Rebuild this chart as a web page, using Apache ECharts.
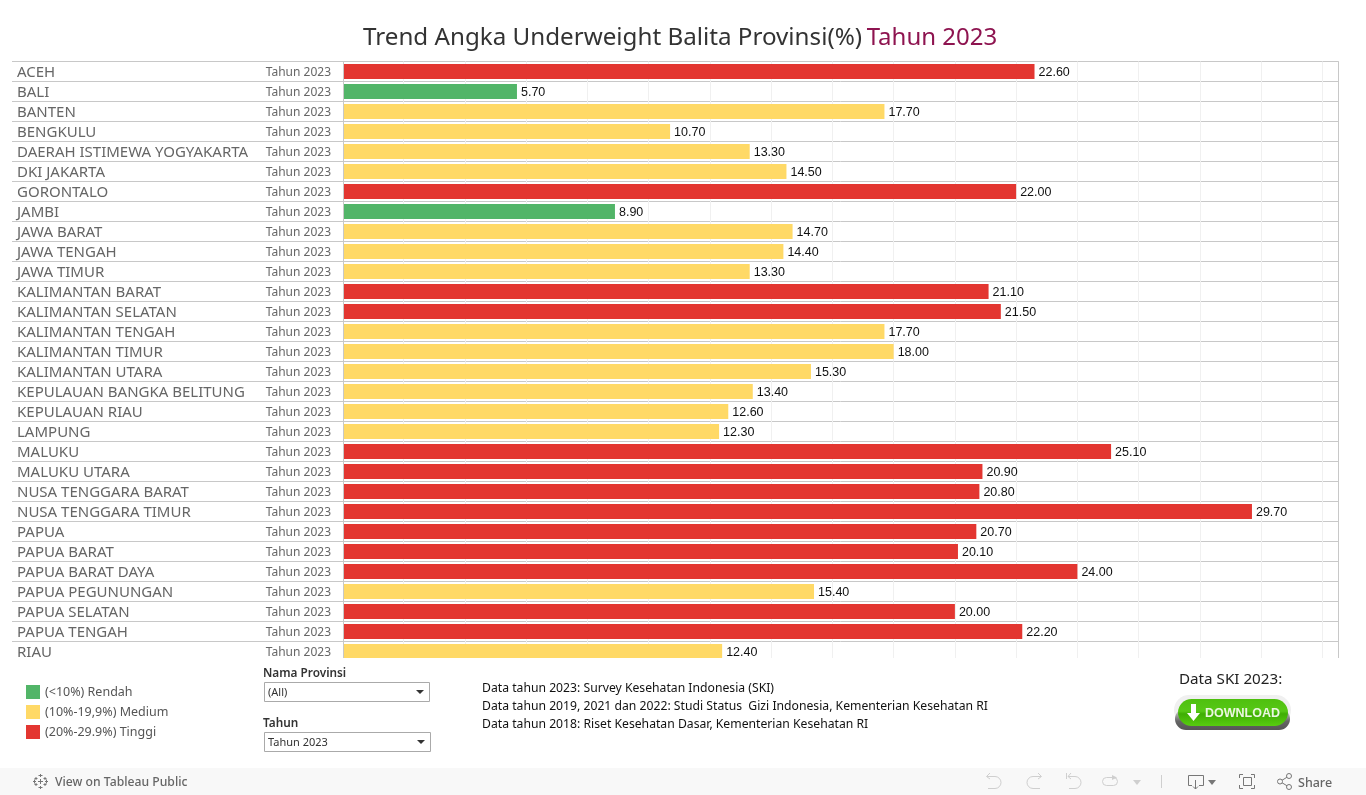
<!DOCTYPE html>
<html><head><meta charset="utf-8">
<style>html,body{margin:0;padding:0;background:#fff}#c{width:1366px;height:795px}</style>
<script src="https://cdn.jsdelivr.net/npm/echarts@6/dist/echarts.min.js"></script>
</head><body><div id="c"></div>
<script>
const provinces = ['ACEH','BALI','BANTEN','BENGKULU','DAERAH ISTIMEWA YOGYAKARTA','DKI JAKARTA','GORONTALO','JAMBI','JAWA BARAT','JAWA TENGAH','JAWA TIMUR','KALIMANTAN BARAT','KALIMANTAN SELATAN','KALIMANTAN TENGAH','KALIMANTAN TIMUR','KALIMANTAN UTARA','KEPULAUAN BANGKA BELITUNG','KEPULAUAN RIAU','LAMPUNG','MALUKU','MALUKU UTARA','NUSA TENGGARA BARAT','NUSA TENGGARA TIMUR','PAPUA','PAPUA BARAT','PAPUA BARAT DAYA','PAPUA PEGUNUNGAN','PAPUA SELATAN','PAPUA TENGAH','RIAU'];
const values = [22.6,5.7,17.7,10.7,13.3,14.5,22.0,8.9,14.7,14.4,13.3,21.1,21.5,17.7,18.0,15.3,13.4,12.6,12.3,25.1,20.9,20.8,29.7,20.7,20.1,24.0,15.4,20.0,22.2,12.4];
const yearLabel = 'Tahun 2023';
const levels = [
  {name:'(<10%) Rendah', color:'#52b568', lo:0, hi:10},
  {name:'(10%-19,9%) Medium', color:'#ffd966', lo:10, hi:20},
  {name:'(20%-29.9%) Tinggi', color:'#e33631', lo:20, hi:30}
];
const GRID='#c8c8c8', SANS='"Noto Sans"';
const txt=(text,x,y,font,fill,align)=>({type:'text',z:20,silent:true,style:{text,x,y,font,fill,align:align||'left',verticalAlign:'middle'}});
const rect=(x,y,w,h,fill,stroke,r)=>({type:'rect',z:19,silent:true,shape:{x,y,width:w,height:h,r:r||0},style:{fill:fill||'transparent',stroke:stroke||null,lineWidth:1}});
const pl=(pts,stroke,lw)=>({type:'polyline',z:20,silent:true,shape:{points:pts},style:{stroke,fill:null,lineWidth:lw||1}});
const tri=(pts,fill)=>({type:'polygon',z:20,silent:true,shape:{points:pts},style:{fill}});
const arc=(cx,cy,r,a,b,stroke,cw)=>({type:'arc',z:20,silent:true,shape:{cx,cy,r,startAngle:a,endAngle:b,clockwise:cw!==false},style:{stroke,fill:null,lineWidth:1}});
const circ=(cx,cy,r,fill,stroke)=>({type:'circle',z:20,silent:true,shape:{cx,cy,r},style:{fill,stroke,lineWidth:1}});
const P=Math.PI, MUTED='#cfcfcf', ICON='#777', FOOT='#f8f8f8';
const grad=(stops)=>new echarts.graphic.LinearGradient(0,0,0,1,stops);
const chrome=[
  rect(0,658,1366,6,'#fff'),
  // divider between the label pane and the bar pane
  rect(341,61,3,597,'#fff'),
  pl([[343.5,61.5],[343.5,658]],GRID),
  // footer
  rect(0,768,1366,27,FOOT),
  pl([[40.5,774],[40.5,777]],ICON),pl([[40.5,786],[40.5,789]],ICON),pl([[38.5,775.5],[42.5,775.5]],ICON),pl([[38.5,787.5],[42.5,787.5]],ICON),
  pl([[33,781.5],[36,781.5]],ICON),pl([[45,781.5],[48,781.5]],ICON),pl([[34.5,779.5],[34.5,783.5]],ICON),pl([[46.5,779.5],[46.5,783.5]],ICON),
  pl([[40.5,779],[40.5,784]],ICON),pl([[38,781.5],[43,781.5]],ICON),
  pl([[36,777],[36,780]],ICON),pl([[34.5,778.5],[37.5,778.5]],ICON),pl([[45,777],[45,780]],ICON),pl([[43.5,778.5],[46.5,778.5]],ICON),
  pl([[36,783],[36,786]],ICON),pl([[34.5,784.5],[37.5,784.5]],ICON),pl([[45,783],[45,786]],ICON),pl([[43.5,784.5],[46.5,784.5]],ICON),
  txt('View on Tableau Public',55,783,'500 12.2px '+SANS,'#666'),
  pl([[990,773],[986.5,776.5],[990,779]],MUTED),pl([[987,776.5],[995,776.5]],MUTED),arc(995,782.5,6,-P/2,P/2,MUTED),pl([[995,788.5],[988,788.5]],MUTED),
  pl([[1038,773],[1041.5,776.5],[1038,779]],MUTED),pl([[1041,776.5],[1033,776.5]],MUTED),arc(1033,782.5,6,-P/2,P/2,MUTED,false),pl([[1033,788.5],[1040,788.5]],MUTED),
  pl([[1066.5,773],[1066.5,779]],MUTED),pl([[1071,773],[1068,776.5],[1071,779]],MUTED),pl([[1068,776.5],[1075,776.5]],MUTED),arc(1075,782.5,6,-P/2,P/2,MUTED),pl([[1075,788.5],[1069,788.5]],MUTED),
  rect(1102.5,777.5,15,8,null,MUTED,4),tri([[1112,775],[1117,777.5],[1112,780]],MUTED),
  tri([[1133,780],[1141,780],[1137,785]],MUTED),
  pl([[1161.5,775],[1161.5,788]],MUTED),
  pl([[1192,785.5],[1188.5,785.5],[1188.5,775.5],[1203.5,775.5],[1203.5,785.5],[1199,785.5]],ICON),
  pl([[1195.5,780],[1195.5,789]],ICON),pl([[1193,786.5],[1195.5,789],[1198,786.5]],ICON),
  tri([[1208,780],[1216,780],[1212,785]],ICON),
  pl([[1239.5,778],[1239.5,774.5],[1243,774.5]],ICON),pl([[1251,774.5],[1254.5,774.5],[1254.5,778]],ICON),
  pl([[1254.5,785],[1254.5,788.5],[1251,788.5]],ICON),pl([[1243,788.5],[1239.5,788.5],[1239.5,785]],ICON),
  rect(1243.5,777.5,8,8,null,ICON),
  pl([[1289,776],[1280,781.5],[1289,787]],ICON),
  circ(1280,781.5,2.5,FOOT,ICON),circ(1289,776,2.5,FOOT,ICON),circ(1289,787,2.5,FOOT,ICON),
  txt('Share',1298,783,'500 12.5px '+SANS,'#666'),
  // filters
  txt('Nama Provinsi',263,674,'600 11.8px '+SANS,'#333'),
  rect(264.5,682.5,165,19,'#fff','#aaa'),
  txt('(All)',268,693,'11px '+SANS,'#333'),
  tri([[416,690],[424,690],[420,694]],'#333'),
  txt('Tahun',263,724,'600 11.8px '+SANS,'#333'),
  rect(264.5,732.5,166,19,'#fff','#aaa'),
  txt('Tahun 2023',268,743,'11px '+SANS,'#333'),
  tri([[417,740],[425,740],[421,744]],'#333'),
  // notes
  txt('Data tahun 2023: Survey Kesehatan Indonesia (SKI)',482,689,'12.2px '+SANS,'#111'),
  txt('Data tahun 2019, 2021 dan 2022: Studi Status  Gizi Indonesia, Kementerian Kesehatan RI',482,707,'12.2px '+SANS,'#111'),
  txt('Data tahun 2018: Riset Kesehatan Dasar, Kementerian Kesehatan RI',482,725,'12.2px '+SANS,'#111'),
  txt('Data SKI 2023:',1179,680,'15.2px '+SANS,'#222'),
  // button
  rect(1174,695,117,30,'#f0f0f0',null,15),
  {type:'rect',z:19,silent:true,shape:{x:1175,y:708,width:115,height:22,r:11},style:{fill:grad([{offset:0,color:'#e8e8e8'},{offset:.6,color:'#666'},{offset:1,color:'#555'}])}},
  {type:'rect',z:20,silent:true,shape:{x:1178,y:699,width:110,height:27,r:13.5},style:{fill:grad([{offset:0,color:'#4fc00f'},{offset:.45,color:'#57c816'},{offset:.55,color:'#3fae04'},{offset:1,color:'#58cc10'}])}},
  tri([[1191,704],[1196,704],[1196,713],[1200,713],[1193.5,721],[1187,713],[1191,713]],'#fff'),
  txt('DOWNLOAD',1205,713.5,'bold 12.5px "Liberation Sans"','#eaf7e0')
];
const option={
  animation:false,
  textStyle:{fontFamily:SANS},
  title:{left:363,top:26,padding:0,text:'{a|Trend Angka Underweight Balita Provinsi(%)} {b|Tahun 2023}',
    textStyle:{fontWeight:'normal',rich:{a:{fontFamily:SANS,fontWeight:'normal',fontSize:24.2,color:'#333'},b:{fontFamily:SANS,fontWeight:'normal',fontSize:24,color:'#8e1450'}}}},
  legend:{orient:'vertical',left:26,top:685,itemWidth:14,itemHeight:14,itemGap:6,icon:'rect',selectedMode:false,padding:0,
    textStyle:{fontFamily:SANS,fontSize:12.5,color:'#555'},data:levels.map(l=>l.name)},
  grid:[
    {left:12,top:62.5,width:332,height:600},
    {left:342.4,top:61.5,width:996.1,height:600,show:true,borderColor:GRID,borderWidth:1,backgroundColor:'transparent'},
    {left:12,top:61.5,width:332,height:600}
  ],
  xAxis:[
    {gridIndex:0,type:'value',show:false},
    {gridIndex:1,type:'value',min:0,max:32.526,interval:2,axisLine:{show:false},axisTick:{show:false},axisLabel:{show:false},
     splitLine:{show:true,showMinLine:false,showMaxLine:false,lineStyle:{color:'#f0f0f0',width:1}}},
    {gridIndex:2,type:'value',show:false}
  ],
  yAxis:[
    {gridIndex:0,type:'category',inverse:true,data:provinces,position:'left',axisLine:{show:false},axisTick:{show:false},
     axisLabel:{inside:true,margin:5,align:'left',fontFamily:SANS,fontSize:15,color:'#666',interval:0},splitLine:{show:false}},
    {gridIndex:0,type:'category',inverse:true,data:provinces.map(()=>yearLabel),position:'right',axisLine:{show:false},axisTick:{show:false},
     axisLabel:{inside:true,margin:13,align:'right',fontFamily:SANS,fontSize:12,color:'#666',interval:0},splitLine:{show:false}},
    {gridIndex:1,type:'category',inverse:true,data:provinces,axisTick:{show:false},axisLabel:{show:false},
     axisLine:{show:false},splitLine:{show:true,interval:0,lineStyle:{color:GRID,width:1}}},
    {gridIndex:2,z:30,type:'category',inverse:true,data:provinces,axisTick:{show:false},axisLabel:{show:false},axisLine:{show:false},
     splitLine:{show:true,interval:0,showMaxLine:false,lineStyle:{color:GRID,width:1}}}
  ],
  series:levels.map(l=>({
    name:l.name,type:'bar',xAxisIndex:1,yAxisIndex:2,barWidth:15,barGap:'-100%',
    itemStyle:{color:l.color},
    label:{show:true,position:'right',distance:4,offset:[0,1],formatter:p=>p.value.toFixed(2),fontFamily:'"Liberation Sans"',fontSize:12.5,color:'#111'},
    data:values.map(v=>(v>=l.lo&&v<l.hi)?v:null)
  })),
  graphic:chrome
};
echarts.init(document.getElementById('c'),null,{renderer:'canvas'}).setOption(option);
</script></body></html>
